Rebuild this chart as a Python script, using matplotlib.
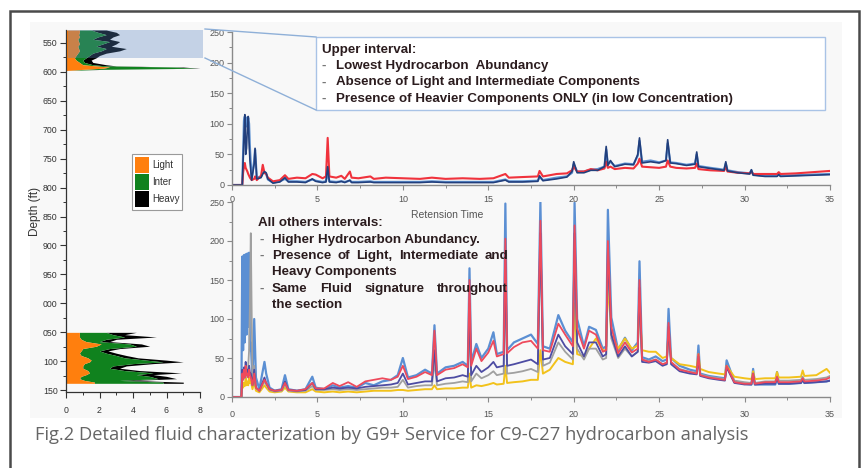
import numpy as np
import matplotlib
matplotlib.use("Agg")
import matplotlib.pyplot as plt
from matplotlib.patches import Rectangle, Patch

plt.rcParams["font.family"] = ["Liberation Sans", "DejaVu Sans"]

W, H = 865, 468

# ---------------- depth log (stacked component widths) ----------------
depth_upper = [528, 532, 536, 540, 544, 548, 552, 556, 560, 564, 568, 572, 576, 580, 584, 588, 590, 592, 594, 596, 598]
light_upper = [0.8, 0.8, 0.75, 0.8, 0.7, 0.75, 0.8, 0.7, 0.75, 0.8, 0.7, 0.6, 0.5, 0.6, 0.8, 1.0, 1.8, 2.6, 2.2, 1.0, 0.0]
inter_upper = [0.7, 1.1, 1.65, 1.1, 0.9, 1.85, 1.4, 1.1, 1.65, 1.3, 0.9, 0.8, 0.7, 0.4, 0.3, 0.6, 0.6, 3.9, 5.6, 1.0, 0.0]
heavy_upper = [0.9, 1.1, 0.8, 0.9, 1.0, 0.6, 0.8, 0.9, 1.2, 1.1, 0.8, 0.6, 0.6, 0.5, 0.5, 0.8, 0.6, 0.5, 0.2, 0.2, 0.0]

depth_lower = [1050, 1054, 1058, 1062, 1066, 1070, 1074, 1078, 1082, 1086, 1090, 1094, 1098, 1101, 1104, 1108, 1112, 1116, 1120, 1123, 1126, 1130, 1133, 1136, 1138]
light_lower = [0.8, 0.8, 0.8, 0.9, 1.2, 2.1, 1.8, 1.0, 0.9, 0.8, 0.9, 1.3, 1.5, 1.4, 1.1, 1.0, 1.0, 1.3, 1.4, 1.2, 0.9, 0.8, 1.1, 1.7, 1.7]
inter_lower = [1.6, 2.0, 2.7, 1.5, 0.8, 1.7, 2.4, 1.6, 1.1, 1.6, 2.1, 2.2, 3.3, 4.4, 2.9, 1.8, 1.6, 2.2, 3.8, 3.0, 4.1, 4.7, 2.1, 4.1, 4.1]
heavy_lower = [1.8, 0.7, 1.9, 0.6, 0.6, 0.7, 0.8, 0.6, 0.5, 0.6, 0.6, 0.8, 1.2, 1.2, 1.2, 0.8, 0.6, 0.9, 1.7, 1.0, 1.0, 1.1, 0.8, 1.2, 1.2]

depth_ticks = [550, 600, 650, 700, 750, 800, 850, 900, 950, 1000, 1050, 1100, 1150]
depth_tick_labels = ["550", "600", "650", "700", "750", "800", "850", "900", "950", "000", "050", "100", "150"]
component_labels = ["Light", "Inter", "Heavy"]
component_colors = ["#ff7f0e", "#10821e", "#000000"]

# ---------------- upper-interval chromatogram ----------------
upper_t = [0, 0.6, 0.65, 0.7, 0.75, 0.8, 0.85, 0.9, 0.95, 1.0, 1.05, 1.15, 1.3, 1.35,
           1.45, 1.7, 1.8, 1.9, 2.0, 2.1, 2.4, 2.8, 3.1, 3.3,
           3.8, 4.3, 4.7, 4.9, 5.3, 5.5, 5.6, 5.7, 6.1, 6.4,
           6.6, 6.9, 7.0, 7.4, 8.1, 8.3, 9.0, 10.0, 11.0, 11.7,
           12.5, 13.5, 14.5, 15.3, 16.0, 16.2, 17.0, 17.9, 18.0, 18.2,
           19.0, 19.6, 19.9, 20.0, 20.2, 20.6, 21.0, 21.4, 21.8, 21.9,
           22.0, 22.15, 22.4, 23.0, 23.5, 23.75, 23.85, 24.0, 24.5, 25.0,
           25.4, 25.5, 25.65, 26.0, 26.6, 27.1, 27.2, 27.3, 28.0, 28.8,
           28.9, 29.0, 29.6, 30.3, 30.4, 30.5, 31.2, 31.9, 32.0, 32.1,
           33.0, 34.0, 35.0]
upper_red = [0, 0, 20, 30, 36, 28, 25, 22, 18, 15, 12, 8, 10, 14,
             8, 15, 33, 20, 18, 12, 6, 8, 16, 10,
             12, 11, 18, 17, 11, 14, 77, 14, 12, 15,
             10, 22, 12, 11, 14, 10, 12, 11, 10, 12,
             10, 11, 10, 11, 18, 12, 13, 14, 23, 14,
             18, 19, 24, 30, 22, 22, 26, 24, 27, 38,
             28, 30, 26, 28, 27, 35, 43, 30, 29, 28,
             30, 40, 30, 28, 27, 28, 35, 26, 24, 23,
             30, 22, 20, 19, 22, 18, 18, 18, 21, 18,
             19, 21, 23]
upper_navy = [0, 0, 40, 80, 115, 50, 60, 95, 112, 70, 40, 8, 35, 60,
              10, 12, 18, 22, 20, 10, 3, 5, 12, 5,
              5, 4, 10, 6, 4, 5, 30, 5, 4, 6,
              4, 8, 4, 4, 5, 4, 4, 4, 4, 5,
              4, 4, 4, 4, 8, 5, 5, 6, 15, 7,
              10, 13, 22, 38, 20, 20, 24, 24, 30, 63,
              32, 40, 30, 34, 33, 50, 77, 36, 38, 36,
              40, 74, 36, 35, 32, 34, 54, 30, 27, 24,
              38, 23, 20, 18, 25, 16, 14, 14, 17, 14,
              15, 16, 17]
upper_blue = [0, 0, 50, 105, 112, 95, 110, 100, 110, 100, 60, 10, 40, 58,
              12, 14, 20, 20, 18, 9, 4, 6, 10, 6,
              6, 5, 9, 7, 5, 6, 22, 6, 5, 6,
              5, 7, 5, 5, 6, 5, 5, 5, 5, 6,
              5, 5, 5, 5, 9, 6, 6, 7, 13, 8,
              12, 14, 20, 34, 22, 22, 25, 26, 30, 58,
              34, 38, 31, 35, 34, 48, 72, 38, 40, 37,
              40, 68, 37, 36, 33, 35, 50, 31, 28, 25,
              35, 24, 21, 19, 24, 17, 15, 15, 18, 15,
              16, 17, 18]

# ---------------- all-other-intervals chromatogram ----------------
lower_t = [0, 0.55, 0.6, 0.65, 0.7, 0.75, 0.8, 0.85, 0.9, 0.95, 1.0, 1.05, 1.1, 1.2, 1.3,
           1.4, 1.6, 1.9, 2.0, 2.2, 2.5, 2.9, 3.1, 3.3, 3.8,
           4.3, 4.7, 4.9, 5.4, 5.9, 6.3, 6.8, 7.3, 7.8, 8.3,
           8.8, 9.3, 9.7, 10.0, 10.3, 10.8, 11.3, 11.7, 11.85, 12.0,
           12.5, 13.0, 13.5, 13.8, 13.9, 14.0, 14.3, 14.6, 15.0, 15.3,
           15.5, 15.9, 16.0, 16.1, 16.5, 17.0, 17.5, 17.9, 18.05, 18.2,
           18.6, 19.1, 19.5, 19.95, 20.05, 20.2, 20.6, 20.9, 21.3, 21.7,
           21.9, 22.0, 22.2, 22.6, 23.0, 23.4, 23.75, 23.85, 24.0, 24.4,
           24.8, 25.2, 25.45, 25.55, 25.7, 26.2, 26.8, 27.2, 27.3, 27.4,
           27.9, 28.5, 28.85, 28.95, 29.4, 30.0, 30.4, 30.5, 30.6, 31.2,
           31.8, 31.9, 32.0, 32.6, 33.3, 33.4, 33.5, 34.2, 34.8, 35.0]
lower_blue = [0, 0, 180, 60, 182, 70, 183, 80, 184, 90, 185, 60, 70, 20, 100,
              25, 10, 45, 30, 12, 8, 10, 28, 10, 8,
              10, 26, 12, 10, 15, 12, 14, 12, 18, 15,
              20, 22, 28, 50, 25, 28, 35, 30, 92, 30,
              38, 40, 45, 40, 165, 45, 68, 50, 62, 83,
              55, 58, 248, 60, 70, 75, 80, 68, 250, 65,
              62, 105, 85, 70, 249, 100, 65, 90, 86, 62,
              65, 240, 102, 60, 76, 60, 70, 174, 51, 48,
              52, 46, 48, 113, 50, 40, 35, 33, 66, 30,
              27, 25, 24, 47, 20, 17, 16, 36, 16, 16,
              16, 32, 17, 17, 18, 22, 18, 19, 20, 21]
lower_red = [0, 0, 30, 22, 35, 25, 40, 28, 30, 25, 35, 28, 25, 15, 30,
             12, 8, 22, 18, 10, 8, 9, 18, 9, 8,
             10, 18, 11, 11, 18, 14, 19, 13, 20, 22,
             24, 22, 26, 40, 23, 26, 32, 28, 85, 28,
             35, 37, 42, 38, 150, 40, 62, 46, 57, 72,
             52, 55, 203, 56, 64, 70, 72, 62, 226, 60,
             58, 94, 80, 65, 220, 88, 62, 85, 80, 58,
             60, 200, 90, 56, 70, 57, 62, 150, 48, 45,
             48, 42, 44, 95, 45, 35, 32, 30, 55, 28,
             25, 23, 22, 40, 19, 17, 17, 30, 17, 19,
             19, 26, 19, 19, 20, 24, 20, 21, 23, 25]
lower_purple = [0, 0, 35, 25, 38, 28, 45, 30, 35, 28, 40, 30, 30, 15, 35,
                12, 8, 25, 18, 10, 8, 9, 20, 9, 8,
                9, 18, 10, 10, 12, 11, 12, 11, 13, 14,
                15, 16, 18, 30, 16, 18, 20, 20, 60, 20,
                24, 25, 28, 26, 120, 28, 40, 32, 38, 45,
                38, 40, 180, 40, 42, 45, 48, 42, 210, 48,
                50, 80, 65, 55, 210, 70, 52, 70, 70, 52,
                55, 190, 80, 52, 65, 52, 58, 140, 45, 44,
                46, 40, 42, 90, 42, 33, 30, 29, 52, 27,
                24, 22, 21, 38, 18, 16, 16, 30, 16, 17,
                17, 24, 17, 17, 18, 22, 18, 19, 20, 21]
lower_gray = [0, 0, 30, 22, 28, 24, 35, 26, 30, 40, 60, 120, 210, 15, 40,
              12, 8, 20, 16, 9, 7, 8, 16, 8, 7,
              8, 14, 9, 9, 10, 9, 10, 9, 10, 11,
              12, 12, 13, 22, 12, 14, 15, 15, 45, 15,
              17, 18, 20, 19, 100, 20, 30, 24, 28, 33,
              28, 30, 160, 30, 31, 33, 36, 32, 200, 40,
              44, 70, 58, 48, 200, 62, 48, 62, 62, 48,
              50, 180, 75, 50, 62, 52, 58, 130, 48, 46,
              48, 42, 44, 85, 44, 36, 32, 31, 50, 29,
              26, 24, 23, 38, 21, 19, 18, 30, 18, 20,
              20, 26, 21, 21, 22, 26, 22, 23, 25, 27]
lower_yellow = [0, 0, 20, 12, 18, 14, 25, 15, 20, 15, 25, 18, 20, 10, 20,
                8, 6, 15, 12, 7, 6, 7, 12, 7, 6,
                6, 10, 7, 6, 7, 6, 7, 6, 7, 8,
                8, 8, 9, 9, 8, 9, 10, 10, 15, 10,
                11, 11, 12, 12, 30, 12, 15, 14, 16, 18,
                16, 17, 40, 18, 19, 20, 22, 22, 60, 30,
                35, 50, 45, 42, 120, 55, 52, 62, 75, 60,
                60, 150, 80, 62, 75, 62, 66, 120, 60, 58,
                58, 50, 52, 80, 50, 42, 40, 38, 55, 36,
                32, 30, 29, 40, 26, 24, 23, 33, 23, 24,
                24, 32, 25, 25, 26, 34, 27, 28, 36, 31]

chrom_yticks = [0, 50, 100, 150, 200, 250]
chrom_xticks = [0, 5, 10, 15, 20, 25, 30, 35]

upper_note_title = "Upper interval:"
upper_note_items = ["Lowest Hydrocarbon  Abundancy",
                    "Absence of Light and Intermediate Components",
                    "Presence of Heavier Components ONLY (in low Concentration)"]
lower_note_title = "All others intervals:"
caption = "Fig.2 Detailed fluid characterization by G9+ Service for C9-C27 hydrocarbon analysis"

# ======================================================================
fig = plt.figure(figsize=(W / 100, H / 100), dpi=100)


def px_box(l, t, r, b):
    return [l / W, 1 - b / H, (r - l) / W, (b - t) / H]


# background layer
bg = fig.add_axes([0, 0, 1, 1], zorder=-5)
bg.set_xlim(0, W)
bg.set_ylim(H, 0)
bg.axis("off")
bg.add_patch(Rectangle((30, 22), 812, 396, facecolor="#f8f8f8", lw=0))
bg.plot([10, 10, 859, 859], [470, 11, 11, 470], color="#4a4a4a", lw=1.8,
        solid_joinstyle="miter")

# ---------------- depth axes ----------------
axd = fig.add_axes(px_box(66, 30, 200, 392))
axd.patch.set_alpha(0)
for d, li, it, hv in [(depth_upper, light_upper, inter_upper, heavy_upper),
                      (depth_lower, light_lower, inter_lower, heavy_lower)]:
    d = np.array(d)
    c1 = np.array(li)
    c2 = c1 + np.array(it)
    c3 = c2 + np.array(hv)
    axd.fill_betweenx(d, c2, c3, color=component_colors[2], lw=0)
    axd.fill_betweenx(d, c1, c2, color=component_colors[1], lw=0)
    axd.fill_betweenx(d, 0, c1, color=component_colors[0], lw=0)
axd.set_xlim(0, 8)
axd.set_ylim(1153, 528)
axd.set_yticks(depth_ticks)
axd.set_yticklabels(depth_tick_labels)
axd.set_yticks(np.arange(575, 1151, 50), minor=True)
axd.set_xticks([0, 2, 4, 6, 8])
axd.set_xticks([1, 3, 5, 7], minor=True)
for s in ["top", "right"]:
    axd.spines[s].set_visible(False)
for s in ["left", "bottom"]:
    axd.spines[s].set_color("#333333")
    axd.spines[s].set_linewidth(0.9)
axd.tick_params(axis="both", which="major", length=4, width=0.8, color="#333333",
                labelsize=6.3, labelcolor="#333333", pad=2)
axd.tick_params(axis="both", which="minor", length=2.5, width=0.7, color="#333333")
axd.tick_params(axis="x", pad=6)
axd.set_ylabel("Depth (ft)", fontsize=8.5, color="#333333")
axd.yaxis.set_label_coords(-0.19, 0.50)
axd.add_patch(Rectangle((0.1, 528), 8.05, 48, facecolor="#5a87c3", alpha=0.33,
                        lw=0, clip_on=False, zorder=5))
handles = [Patch(facecolor=c, edgecolor="none", label=l)
           for c, l in zip(component_colors, component_labels)]
leg = axd.legend(handles=handles, loc="center", bbox_to_anchor=(0.68, 0.58),
                 fontsize=7, handlelength=1.5, handleheight=2.2, handletextpad=0.3,
                 labelspacing=0.1, borderpad=0.25, borderaxespad=0,
                 fancybox=False, edgecolor="#9a9a9a", framealpha=1)
leg.get_frame().set_linewidth(0.8)
for t in leg.get_texts():
    t.set_color("#333333")


def style_chrom(ax, xpad):
    ax.set_xlim(0, 35)
    ax.set_ylim(0, 250)
    ax.set_xticks(chrom_xticks)
    ax.set_xticks(np.arange(2.5, 35, 5), minor=True)
    ax.set_yticks(chrom_yticks)
    ax.set_yticks(np.arange(25, 250, 50), minor=True)
    ax.patch.set_alpha(0)
    for s in ["top", "right"]:
        ax.spines[s].set_visible(False)
    for s in ["left", "bottom"]:
        ax.spines[s].set_color("#8a8a8a")
        ax.spines[s].set_linewidth(1.0)
    ax.tick_params(axis="both", which="major", length=3.5, width=0.8, color="#8a8a8a",
                   labelsize=6.5, labelcolor="#555555", pad=2)
    ax.tick_params(axis="both", which="minor", length=2, width=0.7, color="#8a8a8a")
    ax.tick_params(axis="x", pad=xpad)


# ---------------- upper chromatogram ----------------
axu = fig.add_axes(px_box(232, 32, 830, 185))
axu.plot(upper_t, upper_blue, color="#5f93d3", lw=1.6)
axu.plot(upper_t, upper_red, color="#f0323c", lw=1.5)
axu.plot(upper_t, upper_navy, color="#223f7c", lw=1.2)
style_chrom(axu, 4)
axu.set_xlabel("Retension Time", fontsize=7.5, color="#555555", labelpad=3)
axu.xaxis.set_label_coords((447 - 232) / 598, -0.165)

# ---------------- lower chromatogram ----------------
axl = fig.add_axes(px_box(232, 202, 830, 397))
axl.plot(lower_t, lower_blue, color="#5b8fd3", lw=1.6)
axl.plot(lower_t, lower_yellow, color="#f2c21b", lw=1.4)
axl.plot(lower_t, lower_gray, color="#a0a0a0", lw=1.3)
axl.plot(lower_t, lower_purple, color="#4d4ca3", lw=1.3)
axl.plot(lower_t, lower_red, color="#ee4a5c", lw=1.3)
style_chrom(axl, 6)

# ---------------- overlay: connectors, notes, caption ----------------
fg = fig.add_axes([0, 0, 1, 1], zorder=20)
fg.set_xlim(0, W)
fg.set_ylim(H, 0)
fg.axis("off")
fg.patch.set_alpha(0)
fg.plot([205, 316], [29, 37], color="#8fb0d8", lw=1.0)
fg.plot([205, 316], [58, 110], color="#8fb0d8", lw=1.0)
fg.add_patch(Rectangle((316, 37), 509, 73, facecolor="white", edgecolor="#a9c3e6", lw=1.0))

note_color = "#2b1c1e"
nf = dict(family="Liberation Sans", fontsize=9.6, fontweight="bold", color=note_color, va="center")
fg.text(322, 50, upper_note_title, **nf)
for i, s in enumerate(upper_note_items):
    y = 66 + i * 16.5
    fg.text(322, y, "-", **{**nf, "color": "#777777"})
    fg.text(336, y, s, **nf)

fg.text(258, 223, lower_note_title, **nf)
rows = [(240, ["Higher Hydrocarbon Abundancy."], True),
        (256, ["Presence", "of", "Light,", "Intermediate", "and"], True),
        (272, ["Heavy Components"], False),
        (289, ["Same", "Fluid", "signature", "throughout"], True),
        (305, ["the section"], False)]
left_x, right_x = 272, 508
renderer = fig.canvas.get_renderer()
for y, words, dash in rows:
    if dash:
        fg.text(260, y, "-", **{**nf, "color": "#777777"})
    if len(words) == 1:
        fg.text(left_x, y, words[0], **nf)
        continue
    tmp = [fg.text(0, y, w, **nf) for w in words]
    widths = []
    for t in tmp:
        bb = t.get_window_extent(renderer=renderer)
        widths.append(bb.width)
        t.remove()
    gap = (right_x - left_x - sum(widths)) / (len(words) - 1)
    x = left_x
    for w, wd in zip(words, widths):
        fg.text(x, y, w, **nf)
        x += wd + gap

fg.text(35, 435, caption, family="Open Sans", fontsize=13.25, color="#666666", va="center")

fig.savefig("out.png", dpi=100)
